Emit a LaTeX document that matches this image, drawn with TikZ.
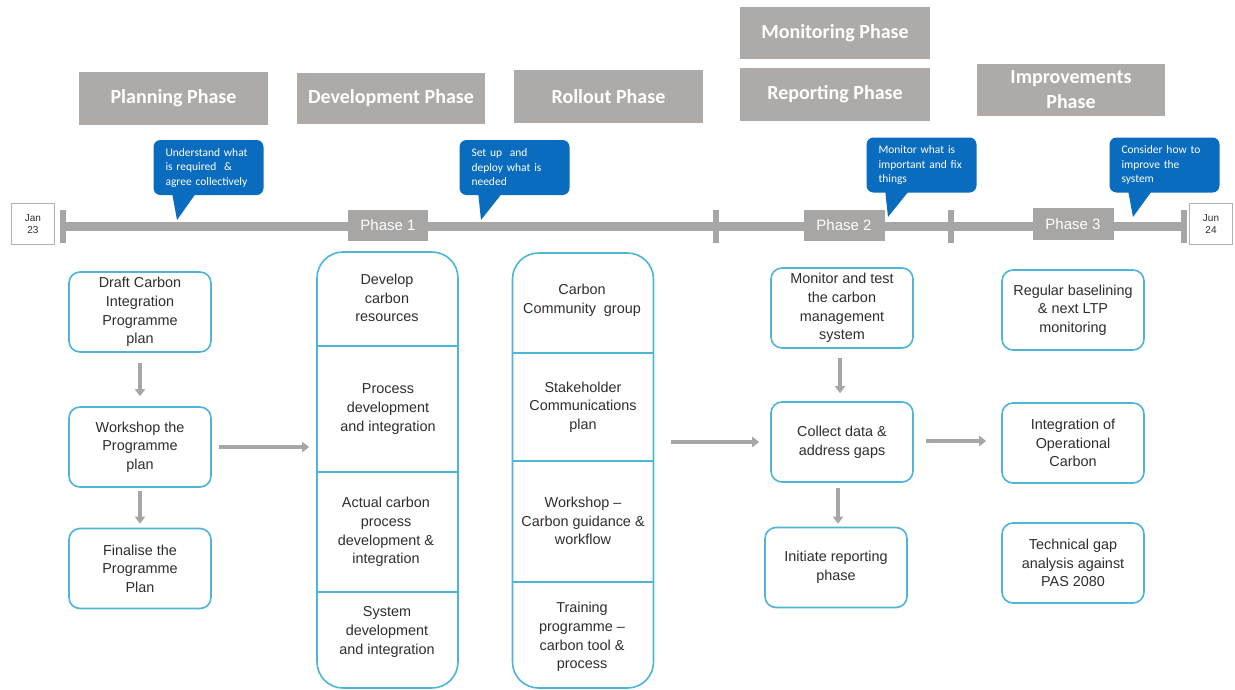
\documentclass[tikz,border=0pt]{standalone}
\usepackage{fontspec}
\setmainfont{Liberation Sans}
\newfontfamily\calibrilike{Carlito}
\usetikzlibrary{arrows.meta}

\definecolor{hdrgray}{HTML}{ADAAA8}
\definecolor{bargray}{HTML}{A8A6A5}
\definecolor{tipblue}{HTML}{0A6CBE}
\definecolor{edgeblue}{HTML}{4DB5D8}
\definecolor{inkgray}{HTML}{2E2E2E}
\definecolor{arrowgray}{HTML}{A6A6A6}

\begin{document}
\begin{tikzpicture}[x=1pt,y=-1pt,
  header/.style={fill=hdrgray, text=white, inner sep=0, align=center,
    font=\calibrilike\bfseries\fontsize{20}{25}\selectfont},
  note/.style={fill=tipblue, rounded corners=7, text=white, inner xsep=12, inner ysep=0,
    text width=86, minimum height=55, align=left,
    font=\calibrilike\fontsize{11.5}{14.5}\selectfont},
  phasetag/.style={fill=bargray, text=white, inner sep=0, minimum height=31,
    font=\fontsize{15}{18}\selectfont},
  datebox/.style={draw=gray!60, line width=1, fill=white, minimum width=43, minimum height=41,
    inner sep=0, align=center, text=inkgray, font=\fontsize{10}{12}\selectfont},
  stepbox/.style={draw=edgeblue, line width=1.6, rounded corners=11, fill=white,
    minimum width=142, minimum height=80, inner sep=0, align=center, text=inkgray,
    font=\fontsize{14.4}{18.6}\selectfont},
  column/.style={draw=edgeblue, line width=1.6, rounded corners=26, minimum width=141, inner sep=0},
  cell/.style={align=center, inner sep=0, text=inkgray, font=\fontsize{14.4}{18.6}\selectfont},
  divider/.style={draw=edgeblue, line width=1.2},
  flow/.style={draw=arrowgray, line width=3.5, -{Triangle[length=7pt,width=10pt]}},
  barline/.style={draw=bargray, line width=9},
  tickmark/.style={draw=bargray, line width=6}
]
\useasboundingbox[fill=white] (0,0) rectangle (1235,689);

% ---- phase headers ----
\node[header, minimum width=189, minimum height=53] (planhdr) at (173.5,98.5) {Planning Phase};
\node[header, minimum width=188, minimum height=51] (devhdr)  at (391,98.5)   {Development Phase};
\node[header, minimum width=189, minimum height=53] (rollhdr) at (608.5,96.5) {Rollout Phase};
\node[header, minimum width=190, minimum height=52] (monhdr)  at (835,33)     {Monitoring Phase};
\node[header, minimum width=190, minimum height=53] (rephdr)  at (835,94.5)   {Reporting Phase};
\node[header, minimum width=188, minimum height=52] (imphdr)  at (1071,90)    {Improvements\\Phase};

% ---- timeline ----
\coordinate (tlstart) at (63,226.5);
\coordinate (tlend)   at (1184,226.5);
\coordinate (tickA)   at (716,226.5);
\coordinate (tickB)   at (951,226.5);
\draw[barline] (tlstart) -- (tlend);
\foreach \t in {tlstart,tlend,tickA,tickB}
  \draw[tickmark] ([yshift=17pt]\t) -- ([yshift=-16pt]\t);

\node[datebox] (jan) at (33,224)   {Jan\\23};
\node[datebox] (jun) at (1211,224) {Jun\\24};

\node[phasetag, minimum width=80] (ph1) at (388,225)    {Phase 1};
\node[phasetag, minimum width=81] (ph2) at (844,225.5)  {Phase 2};
\node[phasetag, minimum width=81, minimum height=32] (ph3) at (1073,224) {Phase 3};

% ---- callouts ----
\node[note] (note1) at (208.5,167.5) {Understand what\\is required~~\&\\agree collectively};
\node[note] (note2) at (514.5,167.5) {Set up~~and\\deploy what is\\needed};
\node[note] (note3) at (921.5,165)   {Monitor what is\\important and fix\\things};
\node[note] (note4) at (1164.5,165)  {Consider how to\\improve the\\system};

\coordinate (tip1) at (177,220);
\coordinate (tip2) at (481,220);
\coordinate (tip3) at (888,217);
\coordinate (tip4) at (1133,217);
\foreach \n in {1,2,3,4}
  \fill[tipblue] ([xshift=19pt,yshift=1pt]note\n.south west) -- (tip\n)
                 -- ([xshift=42pt,yshift=1pt]note\n.south west) -- cycle;

% ---- planning steps ----
\node[stepbox] (draft) at (140,312)   {Draft Carbon\\Integration\\Programme\\plan};
\node[stepbox] (wshop) at (140,447)   {Workshop the\\Programme\\plan};
\node[stepbox] (final) at (140,568.5) {Finalise the\\Programme\\Plan};
\draw[flow] ([yshift=-10pt]draft.south) -- ([yshift=10pt]wshop.north);
\draw[flow] ([yshift=-3pt]wshop.south) -- ([yshift=4pt]final.north);

% ---- development column ----
\node[column, minimum height=436] (devcol) at (387.5,470) {};
\foreach \y in {346,472,592}
  \draw[divider] (devcol.west |- 0,\y) -- (devcol.east |- 0,\y);
\node[cell] (dev1) at (387,298) {Develop\\carbon\\resources};
\node[cell] (dev2) at (388,409) {Process\\development\\and integration};
\node[cell] (dev3) at (386,532) {Actual carbon\\process\\development \&\\integration};
\node[cell] (dev4) at (387,632) {System\\development\\and integration};
\draw[flow] ([xshift=7pt]wshop.east) -- ([xshift=-7pt]wshop.east -| devcol.west);

% ---- rollout column ----
\node[column, minimum height=435] (rollcol) at (583,470.5) {};
\foreach \y in {353,461,582}
  \draw[divider] (rollcol.west |- 0,\y) -- (rollcol.east |- 0,\y);
\node[cell] (roll1) at (582,300) {Carbon\\Community~ group};
\node[cell] (roll2) at (583,407) {Stakeholder\\Communications\\plan};
\node[cell] (roll3) at (583,521) {Workshop --\\Carbon guidance \&\\workflow};
\node[cell] (roll4) at (582,637) {Training\\programme --\\carbon tool \&\\process};

% ---- monitoring and reporting steps ----
\node[stepbox] (monitor)  at (842,308)   {Monitor and test\\the carbon\\management\\system};
\node[stepbox] (collect)  at (842,442)   {Collect data \&\\address gaps};
\node[stepbox] (initiate) at (836,567.5) {Initiate reporting\\phase};
\draw[flow] ([xshift=17pt]rollcol.east |- collect.west) -- ([xshift=-11pt]collect.west);
\draw[flow] ([xshift=-2pt,yshift=-9pt]monitor.south) -- ([xshift=-2pt,yshift=8pt]monitor.south |- collect.north);
\draw[flow] ([xshift=-4pt,yshift=-5pt]collect.south) -- ([xshift=-4pt,yshift=3pt]collect.south |- initiate.north);

% ---- improvement steps ----
\node[stepbox] (regular) at (1073,310) {Regular baselining\\\& next LTP\\monitoring};
\node[stepbox] (integ)   at (1073,443) {Integration of\\Operational\\Carbon};
\node[stepbox] (techgap) at (1073,563) {Technical gap\\analysis against\\PAS 2080};
\draw[flow] ([xshift=12pt,yshift=1pt]collect.east) -- ([xshift=-15pt,yshift=1pt]collect.east -| integ.west);
\end{tikzpicture}
\end{document}
